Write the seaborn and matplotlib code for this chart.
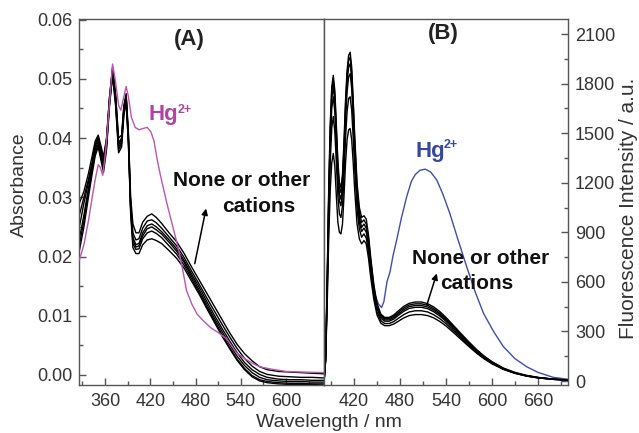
import matplotlib
matplotlib.use("Agg")
import matplotlib.pyplot as plt
import numpy as np
import pandas as pd
import seaborn as sns
from matplotlib.ticker import MultipleLocator, FormatStrFormatter

# ---------------- data ----------------
# Panel A: absorbance, "none or other cations" traces
wl_a = [326, 332, 338, 343, 347, 351, 355, 358, 362, 366, 370, 374, 378, 382, 385,
        388, 391, 394, 397, 401, 405, 410, 416, 422, 428, 435, 445, 455, 465, 475,
        485, 495, 505, 515, 525, 535, 545, 555, 565, 575, 590, 605, 620, 635, 650]
abs_none_1 = [0.029, 0.031, 0.034, 0.037, 0.0395, 0.0405, 0.0385, 0.0368, 0.040, 0.047,
              0.052, 0.0475, 0.040, 0.0405, 0.0455, 0.0475, 0.041, 0.030, 0.0255, 0.024,
              0.024, 0.0258, 0.0268, 0.0272, 0.0266, 0.0256, 0.0240, 0.0225, 0.0205, 0.0182,
              0.0160, 0.0138, 0.0116, 0.0094, 0.0072, 0.0052, 0.0036, 0.0024, 0.0014, 0.0009,
              0.0006, 0.0005, 0.0004, 0.0003, 0.0002]
abs_none_2 = [0.027, 0.030, 0.033, 0.036, 0.039, 0.0402, 0.0380, 0.0362, 0.0398, 0.0468,
              0.0517, 0.0472, 0.0392, 0.0400, 0.0452, 0.0472, 0.0405, 0.0290, 0.0240, 0.0228,
              0.0230, 0.0248, 0.0260, 0.0262, 0.0257, 0.0248, 0.0233, 0.0218, 0.0198, 0.0175,
              0.0153, 0.0130, 0.0108, 0.0086, 0.0065, 0.0045, 0.0028, 0.0015, 0.0006, 0.0001,
              -0.0002, -0.0003, -0.0004, -0.0004, -0.0005]
abs_none_3 = [0.025, 0.029, 0.0325, 0.0355, 0.0385, 0.0400, 0.0375, 0.0358, 0.0395, 0.0465,
              0.0515, 0.0468, 0.0388, 0.0398, 0.0450, 0.0470, 0.0400, 0.0285, 0.0232, 0.0220,
              0.0222, 0.0240, 0.0252, 0.0255, 0.0250, 0.0242, 0.0228, 0.0213, 0.0193, 0.0170,
              0.0148, 0.0124, 0.0101, 0.0079, 0.0058, 0.0038, 0.0021, 0.0009, 0.0001, -0.0004,
              -0.0007, -0.0008, -0.0008, -0.0009, -0.0009]
abs_none_4 = [0.023, 0.027, 0.0315, 0.035, 0.038, 0.0395, 0.0370, 0.0352, 0.0390, 0.0460,
              0.0512, 0.0465, 0.0384, 0.0394, 0.0447, 0.0468, 0.0398, 0.0282, 0.0228, 0.0216,
              0.0218, 0.0235, 0.0247, 0.0250, 0.0245, 0.0238, 0.0224, 0.0209, 0.0190, 0.0166,
              0.0143, 0.0119, 0.0096, 0.0074, 0.0052, 0.0032, 0.0016, 0.0004, -0.0004, -0.0008,
              -0.0010, -0.0011, -0.0011, -0.0012, -0.0012]
abs_none_5 = [0.022, 0.026, 0.031, 0.0345, 0.0375, 0.0390, 0.0365, 0.0348, 0.0385, 0.0458,
              0.0508, 0.0460, 0.0380, 0.0390, 0.0443, 0.0464, 0.0395, 0.0278, 0.0222, 0.0212,
              0.0213, 0.0230, 0.0240, 0.0243, 0.0239, 0.0232, 0.0218, 0.0204, 0.0185, 0.0162,
              0.0139, 0.0115, 0.0092, 0.0069, 0.0047, 0.0027, 0.0011, -0.0001, -0.0008, -0.0011,
              -0.0013, -0.0014, -0.0014, -0.0015, -0.0015]
abs_none_6 = [0.021, 0.025, 0.030, 0.034, 0.037, 0.0385, 0.0360, 0.0342, 0.0380, 0.0455,
              0.0505, 0.0455, 0.0375, 0.0385, 0.0438, 0.0460, 0.0390, 0.0272, 0.0215, 0.0205,
              0.0205, 0.0220, 0.0228, 0.0230, 0.0227, 0.0222, 0.0210, 0.0197, 0.0180, 0.0158,
              0.0136, 0.0112, 0.0089, 0.0066, 0.0045, 0.0025, 0.0009, -0.0003, -0.0010, -0.0013,
              -0.0015, -0.0016, -0.0016, -0.0016, -0.0017]

# Panel A: Hg2+ absorbance
wl_hg_a = [326, 332, 338, 343, 347, 351, 354, 357, 361, 366, 370, 374, 378, 381, 385, 388,
           391, 395, 400, 405, 410, 416, 421, 425, 429, 433, 438, 442, 447, 452, 457, 463,
           468, 475, 482, 490, 500, 512, 522, 534, 545, 555, 565, 580, 600, 620, 650]
abs_hg = [0.0194, 0.022, 0.026, 0.030, 0.033, 0.0355, 0.0350, 0.0337, 0.0380, 0.0460,
          0.0525, 0.0495, 0.0455, 0.0447, 0.0470, 0.0487, 0.0470, 0.0435, 0.0418, 0.0414,
          0.0416, 0.0418, 0.0410, 0.0395, 0.0365, 0.0340, 0.0312, 0.0290, 0.0265, 0.0240,
          0.0215, 0.0178, 0.0143, 0.0120, 0.0103, 0.0092, 0.0080, 0.0070, 0.0060, 0.0038,
          0.0028, 0.0020, 0.0014, 0.0010, 0.0006, 0.0005, 0.0004]

# Panel B: fluorescence, "none or other cations" traces
wl_b = [381, 383, 385, 387, 389, 391, 393, 395, 397, 399, 401, 403, 405, 407, 409,
        411, 413, 415, 417, 419, 421, 424, 427, 430, 433, 436, 439, 442, 446, 450,
        455, 460, 466, 472, 478, 485, 492, 500, 508, 516, 524, 532, 540, 550, 560,
        570, 580, 590, 600, 615, 630, 645, 660, 680, 700]
fl_none_1 = [0, 150, 600, 1150, 1550, 1780, 1850, 1760, 1550, 1330, 1200, 1170, 1250, 1450, 1700,
             1880, 1970, 1990, 1900, 1700, 1480, 1200, 1050, 990, 1000, 980, 880, 740, 580, 470,
             405, 385, 385, 400, 425, 452, 470, 478, 478, 468, 448, 420, 385, 335, 285,
             236, 190, 150, 117, 78, 52, 34, 22, 12, 6]
fl_none_2 = [0, 140, 580, 1120, 1520, 1750, 1820, 1730, 1520, 1300, 1170, 1140, 1220, 1420, 1670,
             1850, 1940, 1960, 1870, 1670, 1450, 1170, 1020, 960, 975, 950, 860, 720, 565, 460,
             398, 378, 378, 392, 416, 442, 460, 467, 467, 458, 438, 410, 377, 328, 279,
             231, 186, 147, 114, 76, 50, 33, 21, 11, 6]
fl_none_3 = [0, 130, 560, 1080, 1480, 1710, 1780, 1690, 1480, 1260, 1130, 1100, 1180, 1380, 1630,
             1810, 1900, 1920, 1830, 1630, 1410, 1130, 990, 930, 950, 925, 840, 705, 550, 450,
             390, 370, 370, 384, 407, 432, 450, 457, 457, 448, 429, 402, 369, 321, 273,
             226, 182, 144, 112, 75, 49, 32, 20, 11, 5]
fl_none_4 = [0, 130, 540, 1040, 1430, 1650, 1720, 1630, 1430, 1220, 1090, 1060, 1140, 1330, 1580,
             1750, 1840, 1860, 1770, 1580, 1370, 1100, 960, 905, 925, 900, 815, 685, 535, 438,
             380, 362, 362, 375, 398, 422, 439, 446, 446, 438, 419, 393, 361, 314, 267,
             221, 178, 141, 110, 73, 48, 31, 20, 10, 5]
fl_none_5 = [0, 125, 500, 960, 1320, 1530, 1600, 1510, 1320, 1120, 1010, 990, 1060, 1240, 1470,
             1630, 1710, 1720, 1640, 1470, 1280, 1040, 920, 870, 890, 865, 780, 655, 515, 420,
             365, 348, 348, 360, 380, 402, 418, 425, 425, 418, 401, 377, 347, 303, 258,
             214, 173, 137, 107, 71, 47, 30, 19, 10, 5]
fl_none_6 = [0, 120, 450, 850, 1150, 1320, 1377, 1300, 1120, 960, 900, 890, 950, 1120, 1320,
             1460, 1520, 1528, 1460, 1320, 1150, 950, 860, 830, 850, 830, 740, 620, 490, 400,
             350, 335, 335, 345, 362, 382, 396, 402, 402, 396, 382, 360, 333, 292, 250,
             208, 168, 133, 104, 70, 46, 30, 19, 10, 5]

# Panel B: Hg2+ fluorescence (visible part, emerging from the black band)
wl_hg_b = [446, 452, 456, 459, 463, 467, 471, 476, 482, 489, 495, 500, 506, 513,
           520, 528, 536, 545, 556, 567, 578, 589, 602, 615, 630, 645, 660, 680, 700]
fl_hg = [540, 465, 445, 480, 600, 660, 760, 860, 990, 1120, 1210, 1250, 1275, 1282,
         1265, 1216, 1130, 1014, 850, 691, 540, 409, 300, 207, 135, 87, 52, 22, 10]

# ---------------- styling ----------------
sns.set_style("ticks")
plt.rcParams["font.family"] = ["Liberation Sans", "DejaVu Sans"]

W, H = 639, 433
MAG_LINE = "#BC55B4"
MAG_TEXT = "#B044A6"
BLUE_LINE = "#3D4FAA"
BLUE_TEXT = "#34499E"
SPINE = "#555555"
TXT = "#333333"


def P(x, y):
    return x / W, 1 - y / H


fig = plt.figure(figsize=(W / 100, H / 100), dpi=100)
axA = fig.add_axes([79 / W, 1 - 385 / H, (324 - 79) / W, (385 - 19) / H])
axB = fig.add_axes([324 / W, 1 - 385 / H, (568 - 324) / W, (385 - 19) / H])

# ---- panel A ----
abs_none = [abs_none_1, abs_none_2, abs_none_3, abs_none_4, abs_none_5, abs_none_6]
df_a = pd.concat([pd.DataFrame({"wl": wl_a, "val": t, "trace": i})
                  for i, t in enumerate(abs_none)], ignore_index=True)
sns.lineplot(data=df_a, x="wl", y="val", units="trace", estimator=None,
             color="black", lw=1.0, ax=axA, legend=False, zorder=2)
sns.lineplot(x=wl_hg_a, y=abs_hg, color=MAG_LINE, lw=1.0, ax=axA, zorder=3)

# ---- panel B ----
fl_none = [fl_none_1, fl_none_2, fl_none_3, fl_none_4, fl_none_5, fl_none_6]
df_b = pd.concat([pd.DataFrame({"wl": wl_b, "val": t, "trace": i})
                  for i, t in enumerate(fl_none)], ignore_index=True)
sns.lineplot(x=wl_hg_b, y=fl_hg, color=BLUE_LINE, lw=1.0, ax=axB, zorder=1)
sns.lineplot(data=df_b, x="wl", y="val", units="trace", estimator=None,
             color="black", lw=1.0, ax=axB, legend=False, zorder=2)

# axes limits / ticks
axA.set_xlim(325.5, 650.4)
axA.set_ylim(-0.00169, 0.0601)
axB.set_xlim(380.9, 699.1)
axB.set_ylim(-24.2, 2190.8)

axA.set_xticks([360, 420, 480, 540, 600])
axA.xaxis.set_minor_locator(MultipleLocator(30))
axA.yaxis.set_major_locator(MultipleLocator(0.01))
axA.yaxis.set_minor_locator(MultipleLocator(0.005))
axA.yaxis.set_major_formatter(FormatStrFormatter("%.2f"))

axB.set_xticks([420, 480, 540, 600, 660])
axB.xaxis.set_minor_locator(MultipleLocator(30))
axB.yaxis.set_major_locator(MultipleLocator(300))
axB.yaxis.set_minor_locator(MultipleLocator(150))
axB.yaxis.tick_right()

for ax in (axA, axB):
    ax.set_xlabel("")
    ax.set_ylabel("")
    for s in ax.spines.values():
        s.set_visible(True)
        s.set_color(SPINE)
        s.set_linewidth(1.0)
    ax.tick_params(which="both", direction="in", color=SPINE, labelcolor=TXT,
                   labelsize=13, top=False)
    ax.tick_params(which="major", length=5, width=1.0)
    ax.tick_params(which="minor", length=3, width=1.0)
    ax.tick_params(axis="x", pad=6)
    ax.tick_params(axis="y", pad=5)

axA.tick_params(axis="y", which="both", left=True, right=False)
axB.tick_params(axis="y", which="both", left=False, right=True,
                labelleft=False, labelright=True)

# ---------------- text ----------------
fig.text(*P(19, 185), "Absorbance", rotation=90, ha="center", va="center",
         fontsize=14, color=TXT)
fig.text(*P(629, 208), "Fluorescence Intensity / a.u.", rotation=90,
         ha="center", va="center", fontsize=15, color=TXT)
fig.text(*P(329, 427), "Wavelength / nm", ha="center", va="baseline",
         fontsize=14, color=TXT)

fig.text(*P(189, 39), "(A)", ha="center", va="center", fontsize=16,
         fontweight="bold", color="#222222")
fig.text(*P(443, 34), "(B)", ha="center", va="center", fontsize=16,
         fontweight="bold", color="#222222")

fig.text(*P(148, 120), "Hg", ha="left", va="baseline", fontsize=16,
         fontweight="bold", color=MAG_TEXT)
fig.text(*P(178, 113), "2+", ha="left", va="baseline", fontsize=9,
         fontweight="bold", color=MAG_TEXT)
fig.text(*P(415, 157), "Hg", ha="left", va="baseline", fontsize=16,
         fontweight="bold", color=BLUE_TEXT)
fig.text(*P(444, 148), "2+", ha="left", va="baseline", fontsize=9,
         fontweight="bold", color=BLUE_TEXT)

fig.text(*P(173, 186), "None or other", ha="left", va="baseline", fontsize=15,
         fontweight="bold", color="#111111")
fig.text(*P(222, 212), "cations", ha="left", va="baseline", fontsize=15,
         fontweight="bold", color="#111111")
fig.text(*P(412, 264), "None or other", ha="left", va="baseline", fontsize=15,
         fontweight="bold", color="#111111")
fig.text(*P(440, 289), "cations", ha="left", va="baseline", fontsize=15,
         fontweight="bold", color="#111111")

arrow = dict(arrowstyle="-|>", color="black", lw=1.1, mutation_scale=9,
             shrinkA=0, shrinkB=0)
axA.annotate("", xy=(494, 0.0281), xytext=(479, 0.0188), arrowprops=arrow)
axB.annotate("", xy=(528, 651), xytext=(515, 460), arrowprops=arrow)

fig.savefig("out.png", dpi=100)
